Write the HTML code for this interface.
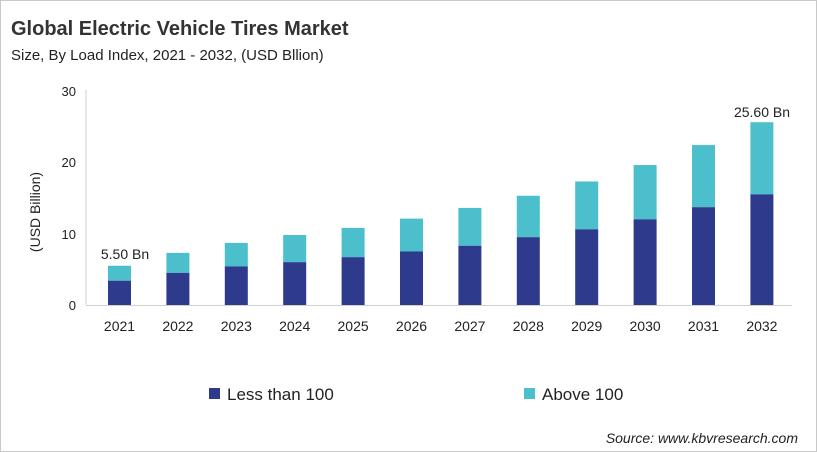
<!DOCTYPE html><html><head><style>body{margin:0;width:817px;height:452px;background:#fff;overflow:hidden}
svg{display:block;font-family:"Liberation Sans",Calibri,sans-serif}</style></head><body>
<svg width="817" height="452" viewBox="0 0 817 452">
<rect x="0.5" y="0.5" width="816" height="451" fill="#fff" stroke="#c8c8c8"/>
<text x="11" y="35" font-size="20" font-weight="bold" fill="#333">Global Electric Vehicle Tires Market</text>
<text x="11" y="60" font-size="15" fill="#222">Size, By Load Index, 2021 - 2032, (USD Bllion)</text>
<text transform="translate(40,212) rotate(-90)" text-anchor="middle" font-size="14" fill="#222">(USD Billion)</text>
<g font-size="13" fill="#222" text-anchor="end">
<text x="76" y="310">0</text><text x="76" y="239">10</text><text x="76" y="167">20</text><text x="76" y="96">30</text></g>
<line x1="86" y1="90" x2="86" y2="305" stroke="#d0d0d0"/>
<line x1="86" y1="305.5" x2="792" y2="305.5" stroke="#d0d0d0"/>
<g id="bars"></g>
<g font-size="14" fill="#222" text-anchor="middle" id="xl"></g>
<text x="125" y="259" font-size="14" text-anchor="middle" fill="#222">5.50 Bn</text>
<text x="762" y="117" font-size="14" text-anchor="middle" fill="#222">25.60 Bn</text>
<rect x="209" y="388" width="11" height="11" fill="#2e3a8c"/>
<text x="227" y="400" font-size="17" fill="#222">Less than 100</text>
<rect x="524" y="388" width="11" height="11" fill="#4bbfcc"/>
<text x="542" y="400" font-size="17" fill="#222">Above 100</text>
<text x="798" y="443" font-size="14" font-style="italic" text-anchor="end" fill="#222">Source: www.kbvresearch.com</text>
</svg>
<script>
var d=[3.4,4.5,5.4,6.0,6.7,7.5,8.3,9.5,10.6,12.0,13.7,15.5],t=[5.5,7.3,8.7,9.8,10.8,12.1,13.6,15.3,17.3,19.6,22.4,25.6];
var s=7.14,y0=305,g=document.getElementById('bars'),xl=document.getElementById('xl'),h='',l='';
for(var i=0;i<12;i++){var c=119.5+i*58.4,x=c-11.5;
h+='<rect x="'+x+'" y="'+(y0-t[i]*s)+'" width="23" height="'+((t[i]-d[i])*s)+'" fill="#4bbfcc"/>';
h+='<rect x="'+x+'" y="'+(y0-d[i]*s)+'" width="23" height="'+(d[i]*s)+'" fill="#2e3a8c"/>';
l+='<text x="'+c+'" y="331">'+(2021+i)+'</text>';}
g.innerHTML=h;xl.innerHTML=l;
</script></body></html>
